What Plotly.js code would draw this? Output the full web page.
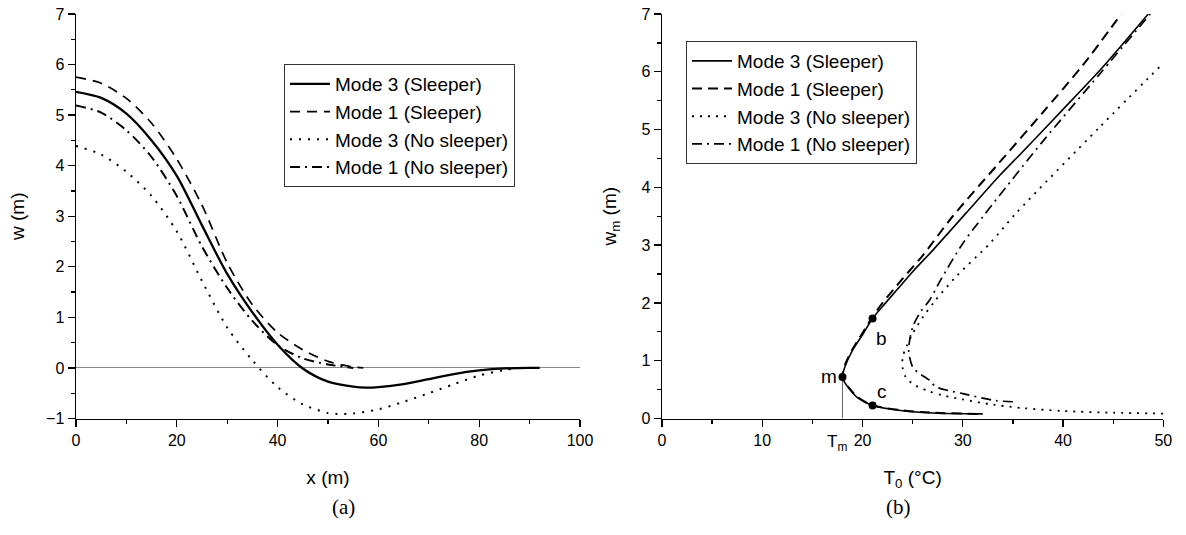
<!DOCTYPE html>
<html><head><meta charset="utf-8">
<script src="https://cdn.plot.ly/plotly-3.0.1.min.js"></script>
<style>html,body{margin:0;padding:0;background:#fff}#plot{width:1186px;height:535px}</style>
</head><body><div id="plot"></div>
<script>
// ---------- Panel (a): w(x) ----------
const seriesNames = ["Mode 3 (Sleeper)", "Mode 1 (Sleeper)", "Mode 3 (No sleeper)", "Mode 1 (No sleeper)"];

const a_m3s_x = [0, 5, 10, 15, 20, 25, 30, 35, 40, 45, 50, 55, 57.5, 60, 65, 70, 75, 80, 85, 90, 92];
const a_m3s_w = [5.46, 5.34, 5.03, 4.50, 3.80, 2.82, 1.86, 1.10, 0.46, -0.01, -0.27, -0.37, -0.39, -0.38, -0.32, -0.22, -0.12, -0.05, -0.01, 0, 0];

const a_m1s_x = [0, 5, 10, 15, 20, 25, 30, 35, 40, 45, 50, 55, 57];
const a_m1s_w = [5.75, 5.63, 5.33, 4.84, 4.13, 3.22, 2.08, 1.25, 0.70, 0.36, 0.13, 0.02, 0];

const a_m3n_x = [0, 5, 10, 15, 20, 25, 30, 35, 40, 45, 50, 52, 55, 60, 65, 70, 75, 80, 85, 88];
const a_m3n_w = [4.39, 4.22, 3.88, 3.40, 2.70, 1.72, 0.80, 0.15, -0.38, -0.72, -0.89, -0.91, -0.90, -0.82, -0.67, -0.50, -0.32, -0.15, -0.04, 0];

const a_m1n_x = [0, 5, 10, 15, 20, 25, 30, 35, 40, 45, 50, 55];
const a_m1n_w = [5.19, 5.05, 4.70, 4.17, 3.40, 2.40, 1.58, 0.93, 0.45, 0.19, 0.07, 0.0];

// ---------- Panel (b): wm(T0) ----------
const b_m3s_T = [32, 27, 24, 21, 19.5, 18.7, 18.2, 18.0, 18.3, 19.0, 20, 21.0, 22, 23.7, 25, 27, 30.3, 33.7, 36, 40, 43.7, 48.5];
const b_m3s_w = [0.08, 0.095, 0.135, 0.225, 0.36, 0.51, 0.63, 0.72, 0.92, 1.18, 1.45, 1.73, 1.94, 2.28, 2.54, 2.91, 3.55, 4.21, 4.62, 5.35, 6.03, 7.0];

const b_m1s_T = [31.5, 27, 24, 21, 19.5, 18.7, 18.2, 18.0, 18.3, 19, 20, 21, 22, 24, 26, 29, 33.4, 38, 42, 45.8];
const b_m1s_w = [0.08, 0.10, 0.14, 0.23, 0.37, 0.52, 0.64, 0.74, 0.95, 1.20, 1.48, 1.76, 2.00, 2.42, 2.82, 3.50, 4.38, 5.30, 6.12, 7.0];

const b_m3n_T = [50, 45, 40, 36, 33, 30, 28, 26.5, 25, 24.3, 24.0, 24.0, 24.4, 25, 26, 27.3, 29.3, 32.7, 35.3, 43.7, 50];
const b_m3n_w = [0.085, 0.10, 0.13, 0.18, 0.24, 0.33, 0.40, 0.48, 0.60, 0.72, 0.88, 1.06, 1.25, 1.47, 1.75, 2.05, 2.45, 3.03, 3.55, 5.05, 6.15];

const b_m1n_T = [35, 33.3, 30, 27.3, 26.7, 25.5, 25, 24.6, 25, 25.8, 26.7, 27.8, 30, 32, 33.3, 38, 43.7, 48.7];
const b_m1n_w = [0.29, 0.31, 0.43, 0.55, 0.66, 0.80, 0.89, 1.18, 1.58, 1.85, 2.05, 2.40, 3.03, 3.49, 3.78, 4.80, 5.97, 7.0];

const pointLabels = ["m", "b", "c"];
const pointT = [18.0, 21.0, 21.0];
const pointW = [0.72, 1.73, 0.225];
const labelT = [16.67, 21.9, 21.9];
const labelW = [0.72, 1.38, 0.47];
const Tm = 18.0;

const FONT = "Arial, 'Liberation Sans', sans-serif";
const lineA = [
  {width: 2.3, dash: "solid"},
  {width: 1.7, dash: "10px,7px"},
  {width: 2.0, dash: "2px,7px"},
  {width: 2.0, dash: "10px,5px,2px,5px"}
];
const lineB = [
  {width: 1.6, dash: "solid"},
  {width: 2.0, dash: "10px,6px"},
  {width: 1.8, dash: "2px,6px"},
  {width: 1.7, dash: "10px,5px,2px,5px"}
];

const aX = [a_m3s_x, a_m1s_x, a_m3n_x, a_m1n_x];
const aW = [a_m3s_w, a_m1s_w, a_m3n_w, a_m1n_w];
const bT = [b_m3s_T, b_m1s_T, b_m3n_T, b_m1n_T];
const bW = [b_m3s_w, b_m1s_w, b_m3n_w, b_m1n_w];

const traces = [];
for (let i = 0; i < 4; i++) {
  traces.push({
    x: aX[i], y: aW[i], type: "scatter", mode: "lines", name: seriesNames[i],
    line: {color: "#000", width: lineA[i].width, dash: lineA[i].dash, shape: "spline", smoothing: 0.8},
    xaxis: "x", yaxis: "y", legend: "legend"
  });
}
for (let i = 0; i < 4; i++) {
  traces.push({
    x: bT[i], y: bW[i], type: "scatter", mode: "lines", name: seriesNames[i],
    line: {color: "#000", width: lineB[i].width, dash: lineB[i].dash, shape: "spline", smoothing: 0.8},
    xaxis: "x2", yaxis: "y2", legend: "legend2"
  });
}
// Tm vertical line
traces.push({
  x: [Tm, Tm], y: [0, pointW[0]], type: "scatter", mode: "lines", showlegend: false,
  line: {color: "#666", width: 1}, xaxis: "x2", yaxis: "y2", hoverinfo: "skip"
});
// points m, b, c
traces.push({
  x: pointT, y: pointW, type: "scatter", mode: "markers", showlegend: false,
  marker: {color: "#000", size: 8}, xaxis: "x2", yaxis: "y2"
});

const axisCommon = {
  showline: true, linecolor: "#000", linewidth: 1.5, ticks: "outside", ticklen: 7, tickwidth: 1.3,
  tickcolor: "#000", showgrid: false, zeroline: false, mirror: false,
  tickfont: {family: FONT, size: 16, color: "#000"}
};
const yd = [1 - 418.5 / 535, 1 - 14 / 535];

const annotations = [];
for (let i = 0; i < 3; i++) {
  annotations.push({x: labelT[i], y: labelW[i], xref: "x2", yref: "y2", text: pointLabels[i],
    showarrow: false, font: {family: FONT, size: 19, color: "#000"}});
}
annotations.push({x: 17.5, y: 0, xref: "x2", yref: "y2", yanchor: "top", yshift: -11, text: "T<sub>m</sub>",
  showarrow: false, font: {family: FONT, size: 17, color: "#000"}});
annotations.push({x: 330 / 1186, y: 1 - 507 / 535, xref: "paper", yref: "paper", yanchor: "middle", text: "(a)",
  showarrow: false, font: {family: "'Liberation Serif', 'Times New Roman', serif", size: 21, color: "#000"}});
annotations.push({x: 913 / 1186, y: 1 - 507 / 535, xref: "paper", yref: "paper", yanchor: "middle", text: "(b)",
  showarrow: false, font: {family: "'Liberation Serif', 'Times New Roman', serif", size: 21, color: "#000"}});

const legendCommon = {
  xanchor: "left", yanchor: "top", bgcolor: "#fff", bordercolor: "#333", borderwidth: 1,
  font: {family: FONT, size: 19, color: "#000"}, tracegroupgap: 0, itemwidth: 40
};

const layout = {
  width: 1186, height: 535, margin: {l: 0, r: 0, t: 0, b: 0},
  paper_bgcolor: "#fff", plot_bgcolor: "#fff", showlegend: true,
  xaxis: Object.assign({}, axisCommon, {
    domain: [76 / 1186, 580 / 1186], range: [0, 100], dtick: 20, anchor: "y",
    minor: {dtick: 10, ticklen: 4, tickwidth: 1.3, tickcolor: "#000", ticks: "outside"},
    title: {text: "x (m)", font: {family: FONT, size: 19, color: "#000"}, standoff: 22}
  }),
  yaxis: Object.assign({}, axisCommon, {
    domain: yd, range: [-1, 7], dtick: 1, anchor: "x",
    zeroline: true, zerolinecolor: "#888", zerolinewidth: 1,
    minor: {dtick: 0.5, ticklen: 4, tickwidth: 1.3, tickcolor: "#000", ticks: "outside"},
    title: {text: "w (m)", font: {family: FONT, size: 19, color: "#000"}, standoff: 16}
  }),
  xaxis2: Object.assign({}, axisCommon, {
    domain: [662 / 1186, 1163.3 / 1186], range: [0, 50], dtick: 10, anchor: "y2",
    minor: {dtick: 5, ticklen: 4, tickwidth: 1.3, tickcolor: "#000", ticks: "outside"},
    title: {text: "T<sub>0</sub> (°C)", font: {family: FONT, size: 19, color: "#000"}, standoff: 22}
  }),
  yaxis2: Object.assign({}, axisCommon, {
    domain: yd, range: [0, 7], dtick: 1, anchor: "x2",
    minor: {dtick: 0.5, ticklen: 4, tickwidth: 1.3, tickcolor: "#000", ticks: "outside"},
    title: {text: "w<sub>m</sub> (m)", font: {family: FONT, size: 19, color: "#000"}, standoff: 19}
  }),
  legend: Object.assign({}, legendCommon, {x: 284 / 1186, y: 1 - 64 / 535}),
  legend2: Object.assign({}, legendCommon, {x: 686 / 1186, y: 1 - 41 / 535}),
  annotations: annotations
};

Plotly.newPlot("plot", traces, layout, {staticPlot: true, displayModeBar: false});
</script></body></html>
